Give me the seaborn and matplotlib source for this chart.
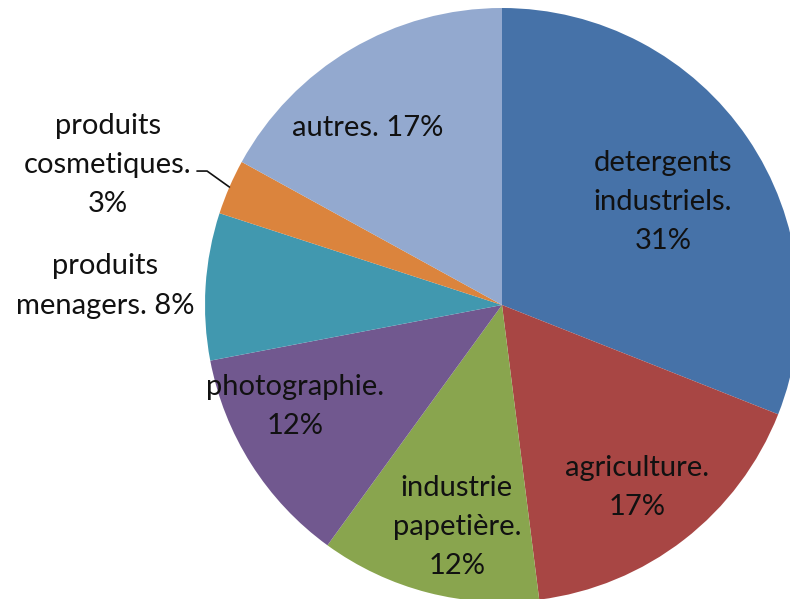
import matplotlib
import numpy as np
import seaborn as sns

matplotlib.use("Agg")
import matplotlib.pyplot as plt

# data
categories = [
    "detergents\nindustriels.\n31%",
    "agriculture.\n17%",
    "industrie\npapetière.\n12%",
    "photographie.\n12%",
    "produits\nmenagers. 8%",
    "produits\ncosmetiques.\n3%",
    "autres. 17%",
]
shares = [31, 17, 12, 12, 8, 3, 17]
colors = ["#4672A8", "#A84644", "#89A54E", "#71588F", "#4198AF", "#DB843D", "#93A9CF"]

# label centres in pie-radius units (layout only)
label_pos = [
    (0.542, 0.347),
    (0.455, -0.613),
    (-0.152, -0.747),
    (-0.697, -0.343),
    (-1.337, 0.064),
    (-1.327, 0.471),
    (-0.451, 0.596),
]

sns.set_style("white")
plt.rcParams["font.family"] = ["Lato", "DejaVu Sans"]

fig = plt.figure(figsize=(7.9, 5.99), dpi=100)
cx, cy, r = 502, 599 - 305, 297
ax = fig.add_axes([(cx - r) / 790, (cy - r) / 599, 2 * r / 790, 2 * r / 599])

wedges, _ = ax.pie(
    shares,
    colors=colors,
    startangle=90,
    counterclock=False,
    radius=1.0,
    wedgeprops={"linewidth": 0},
)
ax.set_xlim(-1, 1)
ax.set_ylim(-1, 1)
ax.set_aspect("equal")
ax.axis("off")

for label, (x, y) in zip(categories, label_pos):
    ax.text(x, y, label, ha="center", va="center", fontsize=21,
            linespacing=1.62, color="#111111", clip_on=False)

# leader line for the small slice
w = wedges[5]
mid = np.deg2rad((w.theta1 + w.theta2) / 2)
ex, ey = np.cos(mid), np.sin(mid)
ax.plot([-1.027, -0.993, ex], [0.451, 0.451, ey], color="#111111",
        linewidth=1.2, clip_on=False)

fig.savefig("out.png", dpi=100)
